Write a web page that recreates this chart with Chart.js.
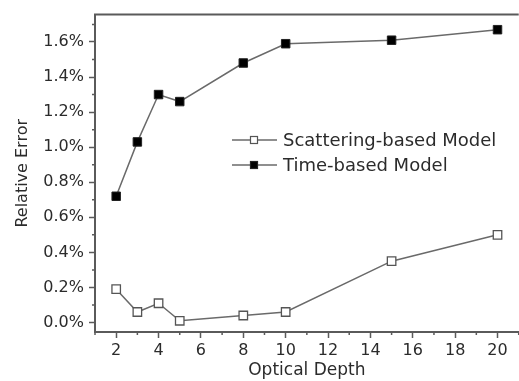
<!DOCTYPE html>
<html>
<head>
<meta charset="utf-8">
<script src="https://cdn.jsdelivr.net/npm/chart.js@4/dist/chart.umd.min.js"></script>
<style>
    html, body { margin: 0; padding: 0; background: #fff; overflow: hidden; }
    #wrap { width: 526px; height: 381px; }
</style>
</head>
<body>
<div id="wrap"><canvas id="errChart" width="526" height="381"></canvas></div>
<script>
// Relative error vs optical depth

const depths = [2, 3, 4, 5, 8, 10, 15, 20];
const scatteringErr = [0.19, 0.06, 0.11, 0.01, 0.04, 0.06, 0.35, 0.50];
const timeErr = [0.72, 1.03, 1.30, 1.26, 1.48, 1.59, 1.61, 1.67];

const xTickValues = [2, 4, 6, 8, 10, 12, 14, 16, 18, 20];
const yTickValues = [0.0, 0.2, 0.4, 0.6, 0.8, 1.0, 1.2, 1.4, 1.6];

const seriesNames = ['Scattering-based Model', 'Time-based Model'];

const axisColor = '#5a5a5a';
const lineColor = '#6a6a6a';
const textColor = '#2b2b2b';
const fontFamily = '"DejaVu Sans", sans-serif';

function toPoints(xs, ys) {
    return xs.map((x, i) => ({ x: x, y: ys[i] }));
}

// minor ticks halfway between the major ones
function minorBetween(vals) {
    const out = [];
    for (let i = 0; i < vals.length - 1; i++) {
        out.push((vals[i] + vals[i + 1]) / 2);
    }
    out.unshift(vals[0] - (vals[1] - vals[0]) / 2);
    out.push(vals[vals.length - 1] + (vals[1] - vals[0]) / 2);
    return out;
}

const frameAndLegend = {
    id: 'frameAndLegend',
    afterDraw(chart) {
        const ctx = chart.ctx;
        const area = chart.chartArea;
        const xs = chart.scales.x;
        const ys = chart.scales.y;
        ctx.save();

        // top frame line
        ctx.strokeStyle = axisColor;
        ctx.lineWidth = 2;
        ctx.beginPath();
        ctx.moveTo(area.left - 1, area.top);
        ctx.lineTo(area.right, area.top);
        ctx.stroke();

        // minor ticks
        ctx.lineWidth = 1.5;
        ctx.beginPath();
        minorBetween(xTickValues).forEach(v => {
            if (v < xs.min || v > xs.max) return;
            const px = xs.getPixelForValue(v);
            ctx.moveTo(px, area.bottom);
            ctx.lineTo(px, area.bottom + 3);
        });
        minorBetween(yTickValues).forEach(v => {
            if (v < ys.min || v > ys.max) return;
            const py = ys.getPixelForValue(v);
            ctx.moveTo(area.left, py);
            ctx.lineTo(area.left - 3, py);
        });
        ctx.stroke();

        // legend inside the plot
        const rows = [140, 165];
        chart.data.datasets.forEach((ds, i) => {
            const y = rows[i];
            ctx.strokeStyle = lineColor;
            ctx.lineWidth = 1.5;
            ctx.beginPath();
            ctx.moveTo(232, y);
            ctx.lineTo(277, y);
            ctx.stroke();
            ctx.fillStyle = ds.pointBackgroundColor;
            ctx.fillRect(250.5, y - 3.5, 7, 7);
            ctx.strokeStyle = ds.pointBorderColor;
            ctx.lineWidth = 1.2;
            ctx.strokeRect(250.5, y - 3.5, 7, 7);
            ctx.fillStyle = textColor;
            ctx.font = '18px ' + fontFamily;
            ctx.textBaseline = 'middle';
            ctx.textAlign = 'left';
            ctx.fillText(ds.label, 283, y + 1);
        });
        ctx.restore();
    }
};

function initChart() {
    const ctx = document.getElementById('errChart');
    new Chart(ctx, {
        type: 'scatter',
        data: {
            datasets: [{
                label: seriesNames[0],
                data: toPoints(depths, scatteringErr),
                showLine: true,
                borderColor: lineColor,
                borderWidth: 1.5,
                pointStyle: 'rect',
                pointRadius: 6,
                pointBackgroundColor: '#fff',
                pointBorderColor: '#555',
                pointBorderWidth: 1.3
            }, {
                label: seriesNames[1],
                data: toPoints(depths, timeErr),
                showLine: true,
                borderColor: lineColor,
                borderWidth: 1.5,
                pointStyle: 'rect',
                pointRadius: 6,
                pointBackgroundColor: '#000',
                pointBorderColor: '#222',
                pointBorderWidth: 1
            }]
        },
        options: {
            responsive: false,
            animation: false,
            layout: { padding: { left: 13, top: 14, right: 0, bottom: 0 } },
            plugins: {
                legend: { display: false },
                tooltip: { enabled: false }
            },
            scales: {
                x: {
                    type: 'linear',
                    min: 1,
                    max: 21,
                    afterBuildTicks: (scale) => {
                        scale.ticks = xTickValues.map(v => ({ value: v }));
                    },
                    afterFit: (scale) => { scale.height = 49; },
                    border: { display: true, color: axisColor, width: 2 },
                    grid: {
                        drawOnChartArea: false,
                        drawTicks: true,
                        tickLength: 6,
                        tickColor: axisColor,
                        tickWidth: 1.5
                    },
                    ticks: {
                        autoSkip: false,
                        maxRotation: 0,
                        padding: 3,
                        color: textColor,
                        font: { family: fontFamily, size: 16 }
                    },
                    title: {
                        display: true,
                        text: 'Optical Depth',
                        color: textColor,
                        font: { family: fontFamily, size: 17 },
                        padding: { top: 2, bottom: 0 }
                    }
                },
                y: {
                    type: 'linear',
                    min: -0.054,
                    max: 1.756,
                    afterBuildTicks: (scale) => {
                        scale.ticks = yTickValues.map(v => ({ value: v }));
                    },
                    afterFit: (scale) => { scale.width = 82; },
                    border: { display: true, color: axisColor, width: 2 },
                    grid: {
                        drawOnChartArea: false,
                        drawTicks: true,
                        tickLength: 6,
                        tickColor: axisColor,
                        tickWidth: 1.5
                    },
                    ticks: {
                        autoSkip: false,
                        padding: 5,
                        color: textColor,
                        font: { family: fontFamily, size: 16 },
                        callback: (v) => v.toFixed(1) + '%'
                    },
                    title: {
                        display: true,
                        text: 'Relative Error',
                        color: textColor,
                        font: { family: fontFamily, size: 16 },
                        padding: { top: 0, bottom: 4 }
                    }
                }
            }
        },
        plugins: [frameAndLegend]
    });
}

window.addEventListener('DOMContentLoaded', initChart);
</script>
</body>
</html>
